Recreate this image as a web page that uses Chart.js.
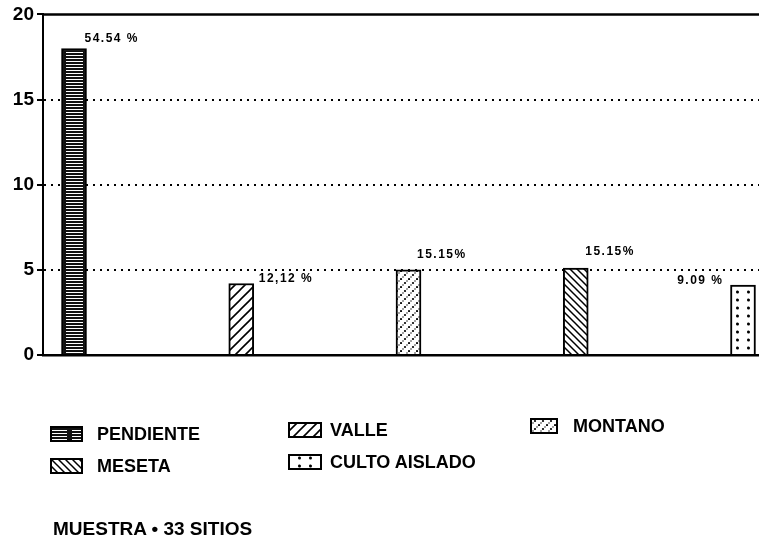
<!DOCTYPE html>
<html><head><meta charset="utf-8">
<script src="https://cdn.jsdelivr.net/npm/chart.js@4"></script>
<style>
html,body{margin:0;padding:0;background:#fff;}
#wrap{position:relative;width:759px;height:548px;overflow:hidden;background:#fff;}
#c{position:absolute;left:0;top:0;}
.lg{position:absolute;font:bold 18px "Liberation Sans",Arial,sans-serif;color:#000;white-space:nowrap;line-height:18px;}
.sw{position:absolute;}
</style></head><body>
<div id="wrap"><canvas id="c" width="759" height="548"></canvas></div>
<script>
// ---- data ----
const categories = ['PENDIENTE', 'VALLE', 'MONTANO', 'MESETA', 'CULTO AISLADO'];
const siteCounts = [18, 4.2, 5.0, 5.1, 4.1];
const percentLabels = ['54.54 %', '12,12 %', '15.15%', '15.15%', '9.09 %'];
const yTicks = [0, 5, 10, 15, 20];
const sampleNote = 'MUESTRA \u2022 33 SITIOS';

// ---- styles ----
const patternKinds = ['horiz', 'fwd', 'stipple', 'back', 'dots'];

function makePattern(kind, g0) {
  const t = document.createElement('canvas');
  let g;
  if (kind === 'horiz') {
    t.width = 22; t.height = 3; g = t.getContext('2d');
    g.fillStyle = '#111'; g.fillRect(0, 0, 22, 3);
    g.fillStyle = '#fff'; g.fillRect(0, 1, 17, 1);
  } else if (kind === 'fwd') {
    const s = 10; t.width = s; t.height = s; g = t.getContext('2d');
    g.fillStyle = '#fff'; g.fillRect(0, 0, s, s);
    g.strokeStyle = '#000'; g.lineWidth = 1.6; g.beginPath();
    g.moveTo(0, s); g.lineTo(s, 0);
    g.moveTo(-2, 2); g.lineTo(2, -2);
    g.moveTo(s - 2, s + 2); g.lineTo(s + 2, s - 2);
    g.stroke();
  } else if (kind === 'back') {
    const s = 7; t.width = s; t.height = s; g = t.getContext('2d');
    g.fillStyle = '#fff'; g.fillRect(0, 0, s, s);
    g.strokeStyle = '#000'; g.lineWidth = 1.5; g.beginPath();
    g.moveTo(0, 0); g.lineTo(s, s);
    g.moveTo(-2, s - 2); g.lineTo(2, s + 2);
    g.moveTo(s - 2, -2); g.lineTo(s + 2, 2);
    g.stroke();
  } else if (kind === 'stipple') {
    t.width = 8; t.height = 8; g = t.getContext('2d');
    g.fillStyle = '#fff'; g.fillRect(0, 0, 8, 8);
    g.fillStyle = '#000';
    [[1, 7], [5, 3], [3, 5], [7, 1]].forEach(([x, y], k) => {
      g.beginPath(); g.arc(x, y, k < 2 ? 1.1 : 0.7, 0, Math.PI * 2); g.fill();
    });
  } else {
    t.width = 11; t.height = 8; g = t.getContext('2d');
    g.fillStyle = '#fff'; g.fillRect(0, 0, 11, 8);
    g.fillStyle = '#000';
    g.beginPath(); g.arc(0.5, 4, 1.5, 0, Math.PI * 2); g.fill();
    g.beginPath(); g.arc(11.5, 4, 1.5, 0, Math.PI * 2); g.fill();
  }
  return g0.createPattern(t, 'repeat');
}

const canvas = document.getElementById('c');
const ctx = canvas.getContext('2d');
const barFills = patternKinds.map(k => makePattern(k, ctx));

const labelPlacement = [
  {side: 'right', dx: -2, dy: -10},
  {side: 'right', dx: 5, dy: -5},
  {side: 'right', dx: -4, dy: -15},
  {side: 'right', dx: -3, dy: -16},
  {side: 'left', dx: -7, dy: -4}
];

const frameTop = {
  id: 'frameTop',
  afterDraw(ch) {
    const c = ch.ctx, a = ch.chartArea, y = ch.scales.y.getPixelForValue(20);
    c.save(); c.strokeStyle = '#000'; c.lineWidth = 2.5;
    c.beginPath(); c.moveTo(a.left, y); c.lineTo(a.right, y); c.stroke(); c.restore();
  }
};

const barLabels = {
  id: 'barLabels',
  afterDatasetsDraw(ch) {
    const c = ch.ctx;
    const meta = ch.getDatasetMeta(0);
    c.save();
    c.fillStyle = '#000';
    c.font = 'bold 12px "Liberation Sans", Arial, sans-serif';
    if ('letterSpacing' in c) c.letterSpacing = '1.5px';
    c.textBaseline = 'middle';
    meta.data.forEach((bar, i) => {
      const p = labelPlacement[i];
      const half = bar.width / 2;
      let x;
      if (p.side === 'right') { c.textAlign = 'left'; x = bar.x + half + p.dx; }
      else { c.textAlign = 'right'; x = bar.x - half + p.dx; }
      c.fillText(percentLabels[i], x, bar.y + p.dy);
    });
    c.restore();
  }
};

new Chart(ctx, {
  type: 'bar',
  data: {
    datasets: [{
      label: 'Sitios',
      data: categories.map((c, i) => ({x: i + 1, y: siteCounts[i]})),
      backgroundColor: barFills,
      borderColor: '#000',
      borderWidth: 2,
      barThickness: 25
    }]
  },
  options: {
    responsive: false,
    animation: false,
    devicePixelRatio: 1,
    layout: {padding: {left: 0, right: 0, top: 11, bottom: 193}},
    plugins: {legend: {display: false}, tooltip: {enabled: false}},
    scales: {
      x: {
        type: 'linear', min: 0.8146, max: 5.0957, offset: false,
        ticks: {display: false},
        grid: {display: false, drawTicks: false, offset: false},
        border: {display: true, color: '#000', width: 2.5},
        afterFit: s => { s.height = 0; }
      },
      y: {
        min: 0, max: 20,
        afterBuildTicks: s => { s.ticks = yTicks.map(v => ({value: v})); },
        ticks: {color: '#000', font: {family: '"Liberation Sans", Arial, sans-serif', size: 19, weight: 'bold'}, padding: 3},
        grid: {
          color: c => (c.tick && (c.tick.value === 0 || c.tick.value === 20)) ? 'rgba(0,0,0,0)' : '#000',
          lineWidth: 2, drawTicks: true, tickLength: 6, tickColor: '#000', tickWidth: 2
        },
        border: {display: true, color: '#000', width: 2, dash: [2, 5]},
        afterFit: s => { s.width = 43; }
      }
    }
  },
  plugins: [frameTop, barLabels]
});

// ---- legend (HTML) ----
const legendSpots = [
  {sx: 50, sy: 426, sw: 33, tx: 97, ty: 425},
  {sx: 288, sy: 422, sw: 34, tx: 330, ty: 421},
  {sx: 530, sy: 418, sw: 28, tx: 573, ty: 417},
  {sx: 50, sy: 458, sw: 33, tx: 97, ty: 457},
  {sx: 288, sy: 454, sw: 34, tx: 330, ty: 453}
];
const wrap = document.getElementById('wrap');
categories.forEach((name, i) => {
  const p = legendSpots[i];
  const sw = document.createElement('canvas');
  sw.width = p.sw; sw.height = 16; sw.className = 'sw';
  sw.style.left = p.sx + 'px'; sw.style.top = p.sy + 'px';
  const g = sw.getContext('2d');
  g.fillStyle = makePattern(patternKinds[i], g);
  g.fillRect(0, 0, p.sw, 16);
  g.strokeStyle = '#000'; g.lineWidth = 2; g.strokeRect(1, 1, p.sw - 2, 14);
  wrap.appendChild(sw);
  const t = document.createElement('div');
  t.className = 'lg'; t.textContent = name;
  t.style.left = p.tx + 'px'; t.style.top = p.ty + 'px';
  wrap.appendChild(t);
});
const note = document.createElement('div');
note.className = 'lg'; note.textContent = sampleNote;
note.style.left = '53px'; note.style.top = '520px'; note.style.fontSize = '19px';
wrap.appendChild(note);
</script>
</body></html>
